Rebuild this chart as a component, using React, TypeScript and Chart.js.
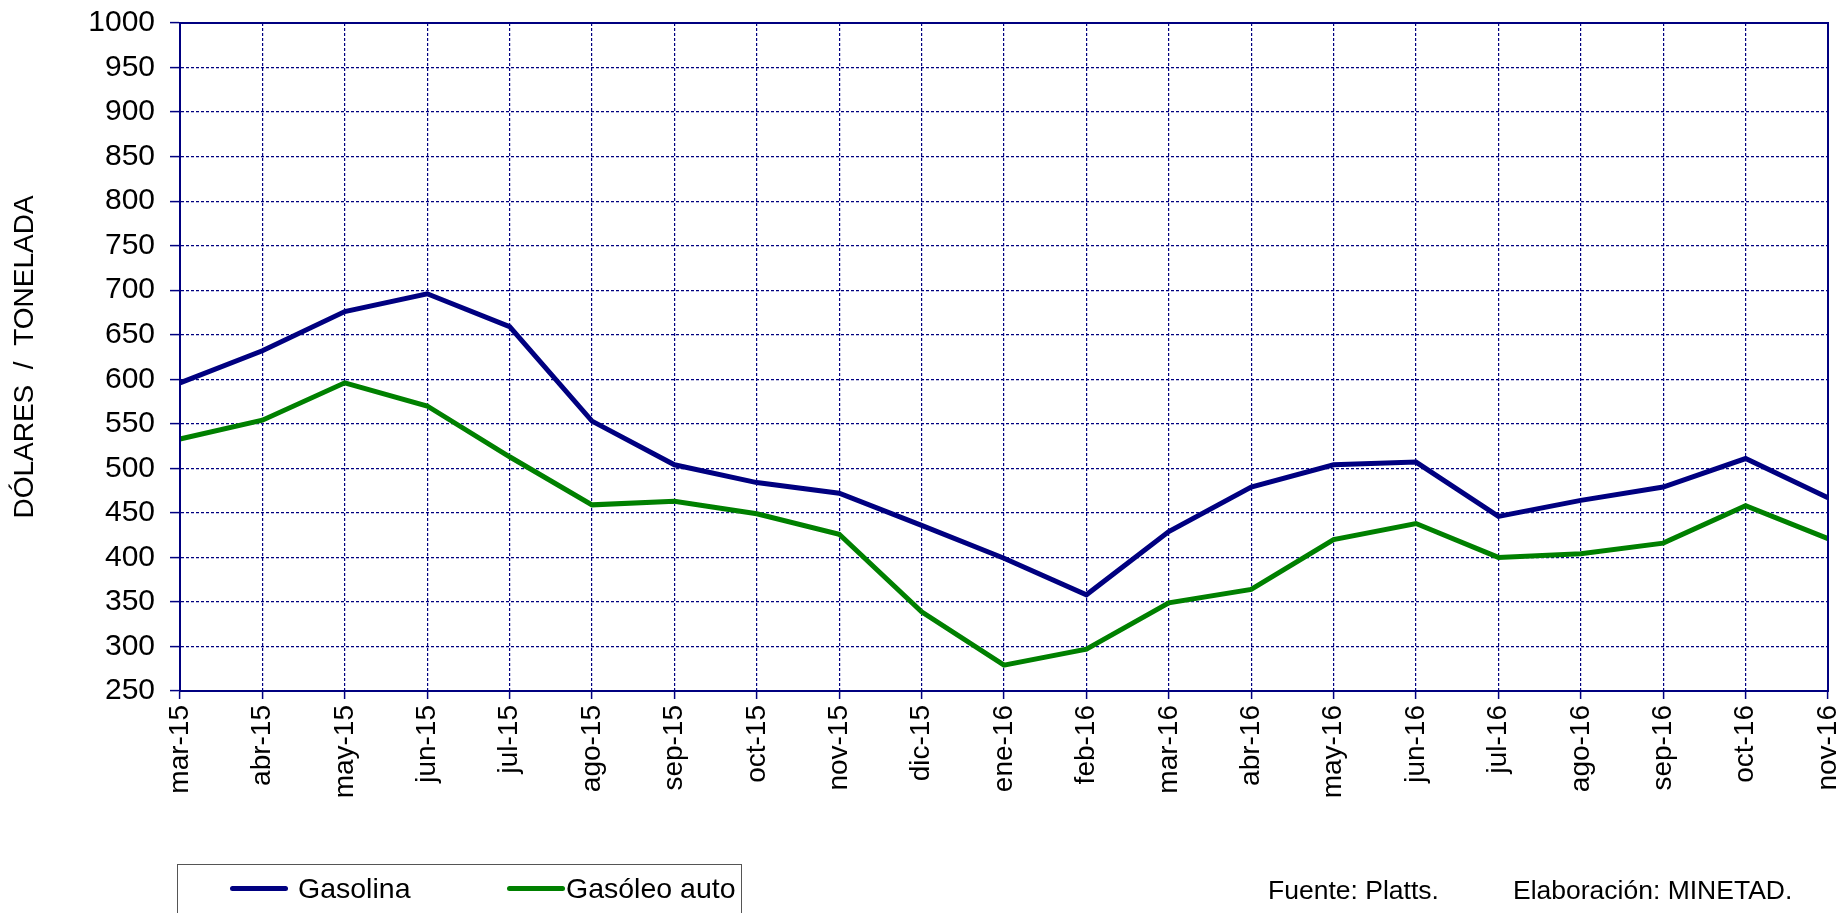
import React, { useEffect, useRef } from "react";
import { Chart, registerables } from "chart.js";

Chart.register(...registerables);

const categories = [
  "mar-15", "abr-15", "may-15", "jun-15", "jul-15", "ago-15", "sep-15", "oct-15",
  "nov-15", "dic-15", "ene-16", "feb-16", "mar-16", "abr-16", "may-16", "jun-16",
  "jul-16", "ago-16", "sep-16", "oct-16", "nov-16",
];
const seriesNames = ["Gasolina", "Gasóleo auto"];
const seriesColors = ["#000080", "#008000"];
const gasolina = [596, 632, 676, 696, 659, 553, 504, 484, 472, 436, 399, 358, 429, 479, 504, 507, 446, 464, 479, 511, 467];
const gasoleo = [533, 554, 596, 570, 513, 459, 463, 449, 426, 339, 279, 297, 349, 364, 420, 438, 400, 404, 416, 458, 421];
const yMin = 250;
const yMax = 1000;
const yStep = 50;
const yTitle = "DÓLARES  /  TONELADA";
const sourceText = "Fuente: Platts.";
const authorText = "Elaboración: MINETAD.";

const FONT = "'Liberation Sans', Arial, sans-serif";
const NAVY = "#000080";

const framePlugin = {
  id: "frame",
  afterDatasetsDraw(chart: any) {
    const { ctx, chartArea } = chart;
    ctx.save();
    ctx.setLineDash([]);
    ctx.strokeStyle = NAVY;
    ctx.lineWidth = 2;
    ctx.strokeRect(chartArea.left, chartArea.top, chartArea.right - chartArea.left, chartArea.bottom - chartArea.top);
    ctx.restore();
  },
};

export default function App() {
  const ref = useRef<HTMLCanvasElement | null>(null);
  useEffect(() => {
    if (!ref.current) return;
    const chart = new Chart(ref.current, {
      type: "line",
      data: {
        labels: categories,
        datasets: [
          { label: seriesNames[0], data: gasolina, borderColor: seriesColors[0], backgroundColor: seriesColors[0], borderWidth: 5, pointRadius: 0, tension: 0 },
          { label: seriesNames[1], data: gasoleo, borderColor: seriesColors[1], backgroundColor: seriesColors[1], borderWidth: 5, pointRadius: 0, tension: 0 },
        ],
      },
      options: {
        animation: false,
        responsive: true,
        maintainAspectRatio: false,
        layout: { padding: { top: 23, right: 11, left: 0, bottom: 0 } },
        plugins: { legend: { display: false }, tooltip: { enabled: false } },
        scales: {
          x: {
            offset: false,
            grid: {
              color: NAVY,
              lineWidth: 1.2,
              tickBorderDash: [],
              tickColor: NAVY,
              tickLength: 8,
              tickWidth: 1.5,
            },
            border: { color: NAVY, width: 2, dash: [3, 2] },
            ticks: {
              autoSkip: false,
              minRotation: 90,
              maxRotation: 90,
              padding: 6,
              color: "#000",
              font: { family: FONT, size: 28 },
            },
            afterFit(scale: any) {
              scale.height = 222;
              scale.paddingLeft = 0;
              scale.paddingRight = 0;
            },
          },
          y: {
            min: yMin,
            max: yMax,
            grid: {
              color: NAVY,
              lineWidth: 1.2,
              tickBorderDash: [],
              tickColor: NAVY,
              tickLength: 10,
              tickWidth: 1.5,
            },
            border: { color: NAVY, width: 2, dash: [3, 2] },
            ticks: {
              stepSize: yStep,
              padding: 15,
              color: "#000",
              font: { family: FONT, size: 30 },
              callback: (v: any) => String(v),
            },
            title: {
              display: true,
              text: yTitle,
              color: "#000",
              font: { family: FONT, size: 28 },
              padding: { top: 8, bottom: 0 },
            },
            afterFit(scale: any) {
              scale.width = 180;
              scale.paddingTop = 0;
              scale.paddingBottom = 0;
            },
          },
        },
      },
      plugins: [framePlugin],
    } as any);
    return () => chart.destroy();
  }, []);

  return (
    <div style={{ position: "absolute", left: 0, top: 0, width: 1839, height: 913, overflow: "hidden", background: "#fff", fontFamily: FONT }}>
      <canvas ref={ref} style={{ position: "absolute", left: 0, top: 0, width: 1839, height: 913 }} />
      <div style={{ position: "absolute", left: 177, top: 864, width: 565, height: 70, border: "1.5px solid #555", boxSizing: "border-box" }} />
      {seriesNames.map((name, i) => {
        const lineLeft = i === 0 ? 230 : 507;
        const textLeft = i === 0 ? 298 : 566;
        return (
          <React.Fragment key={name}>
            <div style={{ position: "absolute", left: lineLeft, top: 886, width: 58, height: 5, borderRadius: 2.5, background: seriesColors[i] }} />
            <div style={{ position: "absolute", left: textLeft, top: 872, fontSize: 28.5, lineHeight: "32px", color: "#000", whiteSpace: "nowrap" }}>{name}</div>
          </React.Fragment>
        );
      })}
      <div style={{ position: "absolute", left: 1268, top: 875, fontSize: 26.5, lineHeight: "30px", color: "#000", whiteSpace: "nowrap" }}>{sourceText}</div>
      <div style={{ position: "absolute", left: 1513, top: 875, fontSize: 26.5, lineHeight: "30px", color: "#000", whiteSpace: "nowrap" }}>{authorText}</div>
    </div>
  );
}
